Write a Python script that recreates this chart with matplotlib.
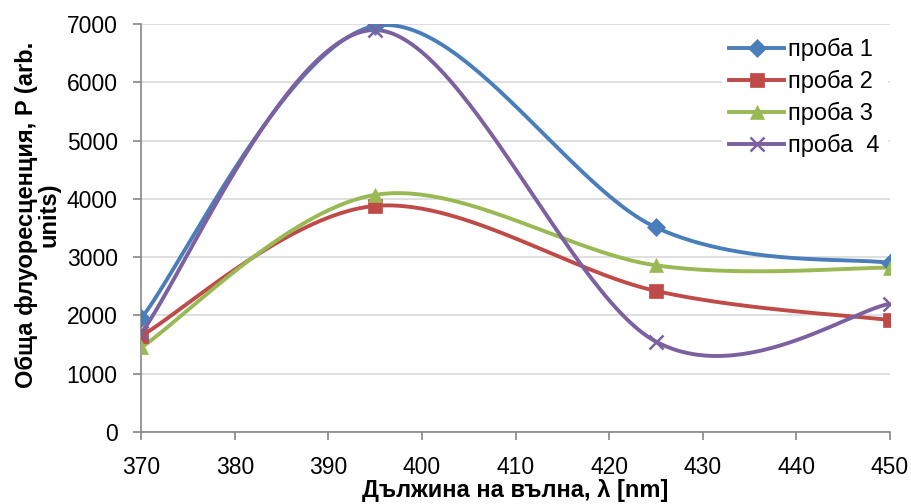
import numpy as np
import matplotlib
matplotlib.use("Agg")
import matplotlib.pyplot as plt

# Data
wavelength = [370, 395, 425, 450]
proba1 = [1950, 6970, 3510, 2900]
proba2 = [1650, 3880, 2420, 1920]
proba3 = [1450, 4070, 2860, 2820]
proba4 = [1700, 6900, 1550, 2200]
labels = ["проба 1", "проба 2", "проба 3", "проба  4"]

colors = ["#4A7EBB", "#BE4B48", "#98B954", "#7D60A0"]
markers = ["D", "s", "^", "x"]
msizes = [9, 10, 10, 10]


def smooth(xs, ys, n=60):
    # Excel-like smoothed line: cubic Bezier with Catmull-Rom style control points
    p = np.column_stack([xs, ys]).astype(float)
    out = []
    for i in range(len(p) - 1):
        p0 = p[i - 1] if i > 0 else p[i]
        p3 = p[i + 2] if i + 2 < len(p) else p[i + 1]
        c1 = p[i] + (p[i + 1] - p0) / 6
        c2 = p[i + 1] - (p3 - p[i]) / 6
        t = np.linspace(0, 1, n)[:, None]
        seg = ((1 - t) ** 3 * p[i] + 3 * (1 - t) ** 2 * t * c1
               + 3 * (1 - t) * t ** 2 * c2 + t ** 3 * p[i + 1])
        out.append(seg if i == 0 else seg[1:])
    out = np.vstack(out)
    return out[:, 0], out[:, 1]


plt.rcParams['font.family'] = ['Liberation Sans', 'DejaVu Sans']

fig = plt.figure(figsize=(9.11, 5.04), dpi=100)
ax = fig.add_axes([0.155, 0.143, 0.822, 0.809])

for ys, lab, c, m, ms in zip([proba1, proba2, proba3, proba4], labels, colors, markers, msizes):
    sx, sy = smooth(wavelength, ys)
    mew = 1.8 if m == "x" else 0.5
    ax.plot(sx, sy, color=c, lw=2.8, zorder=3, solid_capstyle="round")
    ax.plot(wavelength, ys, linestyle="none", marker=m, color=c, markersize=ms,
            markeredgewidth=mew, zorder=4)
    # legend proxy
    ax.plot([], [], color=c, lw=2.8, marker=m, markersize=ms,
            markeredgewidth=mew, label=lab)

ax.set_xlim(370, 450)
ax.set_ylim(0, 7000)
ax.set_xticks(range(370, 451, 10))
ax.set_yticks(range(0, 7001, 1000))
ax.grid(axis="y", color="#D9D9D9", lw=1.2, zorder=0)
ax.set_axisbelow(True)
for s in ["top", "right"]:
    ax.spines[s].set_visible(False)
for s in ["left", "bottom"]:
    ax.spines[s].set_color("#868686")
    ax.spines[s].set_linewidth(1.2)
ax.tick_params(direction="out", length=6, width=1.2, color="#868686",
               labelsize=16.5, labelcolor="black", pad=11)

ax.set_xlabel("Дължина на вълна, λ [nm]", fontsize=17, fontweight="bold")
ax.set_ylabel("Обща флуоресценция, P (arb.\nunits)", fontsize=17, fontweight="bold",
              linespacing=0.95)
ax.xaxis.set_label_coords(0.5, -0.115)
ax.yaxis.set_label_coords(-0.108, 0.532)

leg = ax.legend(loc="upper left", bbox_to_anchor=(0.776, 0.983), frameon=True,
                fontsize=17, handlelength=2.3, borderaxespad=0, borderpad=0.3,
                labelspacing=0.37, handletextpad=0.2)
leg.get_frame().set_edgecolor("white")
leg.get_frame().set_facecolor("white")
leg.get_frame().set_alpha(1)
leg.get_frame().set_boxstyle("square", pad=0)

fig.savefig("out.png", dpi=100)
